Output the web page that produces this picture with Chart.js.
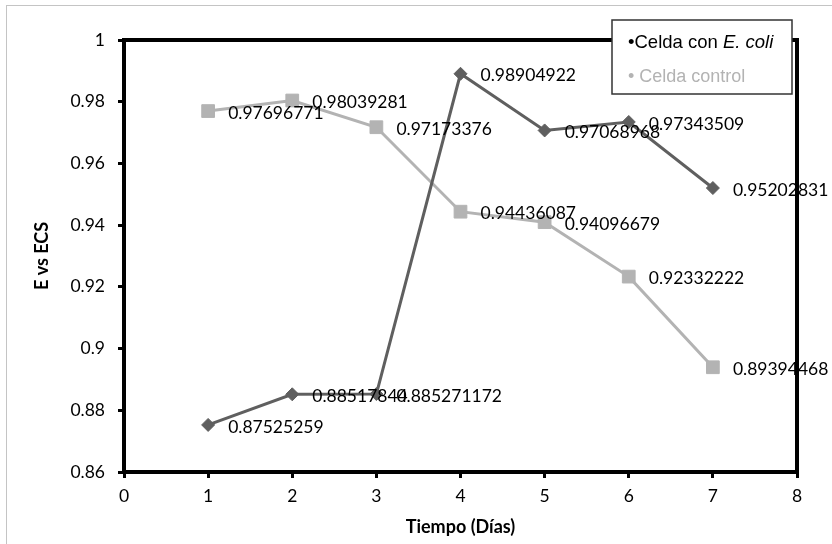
<!DOCTYPE html>
<html>
<head>
<meta charset="utf-8">
<script src="https://cdn.jsdelivr.net/npm/chart.js@4.4.0/dist/chart.umd.min.js"></script>
<style>
html, body { margin: 0; padding: 0; background: #fff; }
</style>
</head>
<body>
<canvas id="grafico" width="832" height="544"></canvas>
<script>
// datos
const dias = [1, 2, 3, 4, 5, 6, 7];
const ecoli = [0.87525259, 0.88517844, 0.885271172, 0.98904922, 0.97068968, 0.97343509, 0.95202831];
const control = [0.97696771, 0.98039281, 0.97173376, 0.94436087, 0.94096679, 0.92332222, 0.89394468];
const nombres = ['Celda con E. coli', 'Celda control'];

const colorEcoli = '#5f5f5f';
const colorControl = '#b3b3b3';

// -------------------------
// PLUGINS
// -------------------------
const fondo = {
    id: 'fondo',
    beforeDraw(chart) {
        const ctx = chart.ctx;
        ctx.save();
        ctx.fillStyle = '#fff';
        ctx.fillRect(0, 0, chart.width, chart.height);
        ctx.strokeStyle = '#c4c4c4';
        ctx.lineWidth = 1;
        ctx.strokeRect(6.5, 5.5, 840, 560);
        ctx.restore();
    }
};

const etiquetas = {
    id: 'etiquetas',
    afterDatasetsDraw(chart) {
        const ctx = chart.ctx;
        ctx.save();
        ctx.font = '17.5px Lato';
        ctx.fillStyle = '#000';
        ctx.textBaseline = 'middle';
        ctx.textAlign = 'left';
        chart.data.datasets.forEach((ds, i) => {
            const meta = chart.getDatasetMeta(i);
            meta.data.forEach((pt, j) => {
                ctx.fillText(String(ds.data[j].y), pt.x + 20, pt.y + 2);
            });
        });
        ctx.restore();
    }
};

const marco = {
    id: 'marco',
    afterDraw(chart) {
        const ctx = chart.ctx;
        const a = chart.chartArea;
        ctx.save();
        ctx.strokeStyle = '#000';
        ctx.lineWidth = 4;
        ctx.strokeRect(a.left, a.top, a.right - a.left, a.bottom - a.top);

        // leyenda
        ctx.fillStyle = '#fff';
        ctx.fillRect(612, 20, 180, 74);
        ctx.strokeStyle = '#333';
        ctx.lineWidth = 1.5;
        ctx.strokeRect(612, 20, 180, 74);

        ctx.textBaseline = 'middle';
        ctx.textAlign = 'left';
        ctx.font = '18.5px "Liberation Sans"';
        ctx.fillStyle = '#000';
        const parte1 = '\u2022' + nombres[0].replace('E. coli', '');
        ctx.fillText(parte1, 628, 43);
        const w = ctx.measureText(parte1).width;
        ctx.font = 'italic 18.5px "Liberation Sans"';
        ctx.fillText('E. coli', 628 + w, 43);

        ctx.font = '18px "Liberation Sans"';
        ctx.fillStyle = colorControl;
        ctx.fillText('\u2022 ' + nombres[1], 628, 77);
        ctx.restore();
    }
};

// -------------------------
// GRÁFICO
// -------------------------
const ctx = document.getElementById('grafico').getContext('2d');

new Chart(ctx, {
    type: 'line',
    data: {
        datasets: [{
            label: nombres[0],
            data: dias.map((d, i) => ({ x: d, y: ecoli[i] })),
            borderColor: colorEcoli,
            backgroundColor: colorEcoli,
            borderWidth: 3,
            pointStyle: 'rectRot',
            pointRadius: 6.5,
            pointBorderWidth: 1,
            tension: 0
        }, {
            label: nombres[1],
            data: dias.map((d, i) => ({ x: d, y: control[i] })),
            borderColor: colorControl,
            backgroundColor: colorControl,
            borderWidth: 3,
            pointStyle: 'rect',
            pointRadius: 9,
            pointBorderWidth: 1,
            tension: 0
        }]
    },
    options: {
        responsive: false,
        animation: false,
        layout: { padding: { top: 40, right: 35, left: 0, bottom: 0 } },
        plugins: {
            legend: { display: false },
            tooltip: { enabled: false }
        },
        scales: {
            x: {
                type: 'linear',
                min: 0,
                max: 8,
                ticks: {
                    stepSize: 1,
                    color: '#000',
                    font: { family: 'Lato', size: 17.5 },
                    padding: 8
                },
                grid: { drawOnChartArea: false, color: '#000', lineWidth: 3, tickLength: 6 },
                border: { display: false },
                title: {
                    display: true,
                    text: 'Tiempo (Días)',
                    color: '#000',
                    font: { family: 'Lato', size: 18, weight: 'bold' },
                    padding: { top: 0, bottom: 6 }
                },
                afterFit: s => { s.height = 72; }
            },
            y: {
                min: 0.86,
                max: 1,
                ticks: {
                    stepSize: 0.02,
                    color: '#000',
                    font: { family: 'Lato', size: 17.5 },
                    padding: 13,
                    callback: v => String(+v.toFixed(2))
                },
                grid: { drawOnChartArea: false, color: '#000', lineWidth: 3, tickLength: 6 },
                border: { display: false },
                title: {
                    display: true,
                    text: 'E vs ECS',
                    color: '#000',
                    font: { family: 'Lato', size: 18, weight: 'bold' },
                    padding: { top: 31, bottom: 0 }
                },
                afterFit: s => { s.width = 124; }
            }
        }
    },
    plugins: [fondo, etiquetas, marco]
});
</script>
</body>
</html>
